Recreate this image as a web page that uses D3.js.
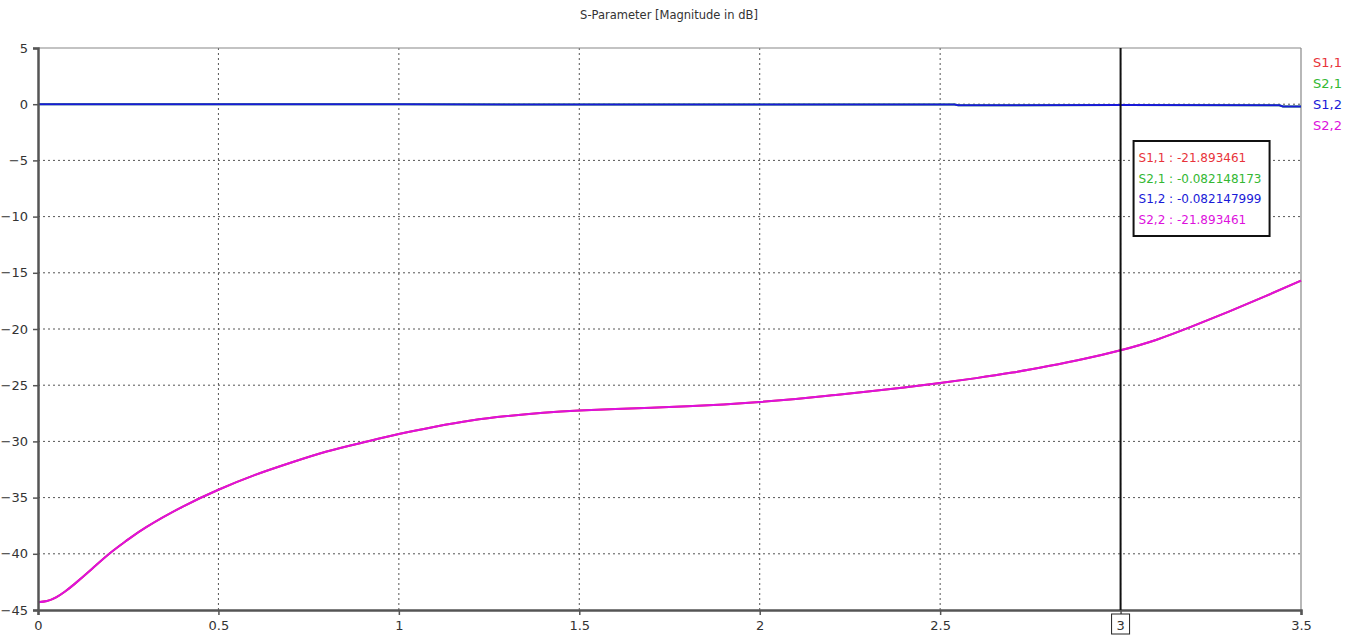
<!DOCTYPE html>
<html>
<head>
<meta charset="utf-8">
<script src="https://cdn.jsdelivr.net/npm/d3@7"></script>
<style>
  body { margin: 0; background: #fff; }
  text { font-family: "DejaVu Sans", Verdana, sans-serif; }
</style>
</head>
<body>
<svg width="1357" height="638"></svg>
<script>
// frequency (x) and magnitude in dB
const freq = [0, 0.025, 0.05, 0.075, 0.1, 0.15, 0.2, 0.25, 0.3, 0.4, 0.5, 0.6, 0.7, 0.8, 0.9, 1.0, 1.1, 1.2, 1.3, 1.4,
  1.5, 1.6, 1.7, 1.8, 1.9, 2.0, 2.1, 2.2, 2.3, 2.4, 2.5, 2.6, 2.7, 2.8, 2.9, 3.0, 3.1, 3.2, 3.3, 3.4, 3.5];
const s11 = [-44.3, -44.2, -43.88, -43.35, -42.72, -41.33, -39.93, -38.72, -37.62, -35.82, -34.3, -33.0,
  -31.9, -30.9, -30.1, -29.35, -28.7, -28.15, -27.75, -27.45, -27.25, -27.12, -27.0, -26.88, -26.72, -26.5,
  -26.22, -25.9, -25.57, -25.2, -24.8, -24.37, -23.88, -23.3, -22.65, -21.89, -20.95, -19.75, -18.45, -17.1, -15.7];
const s22 = s11.slice();
const freqT = [0, 0.5, 1.0, 1.5, 2.0, 2.54, 2.55, 3.0, 3.44, 3.45, 3.5];
const s21 = [-0.01, -0.01, -0.01, -0.02, -0.02, -0.02, -0.09, -0.082, -0.09, -0.2, -0.2];
const s12 = s21.slice();

const xTicks = [0, 0.5, 1, 1.5, 2, 2.5, 3, 3.5];
const yTicks = [5, 0, -5, -10, -15, -20, -25, -30, -35, -40, -45];
const markerX = 3;
const markerVals = ['-21.893461', '-0.082148173', '-0.082147999', '-21.893461'];

const series = [
  { name: 'S1,1', x: freq, y: s11, color: '#e8333a', smooth: true },
  { name: 'S2,1', x: freqT, y: s21, color: '#33b833', smooth: false },
  { name: 'S1,2', x: freqT, y: s12, color: '#1a1ad8', smooth: false },
  { name: 'S2,2', x: freq, y: s22, color: '#dd11dd', smooth: true }
];

const svg = d3.select('svg');
const margin = { top: 48, right: 56, bottom: 28, left: 38 };
const width = 1357 - margin.left - margin.right;
const height = 638 - margin.top - margin.bottom;

const chart = svg.append('g').attr('transform', `translate(${margin.left},${margin.top})`);

const xScale = d3.scaleLinear().domain([0, 3.5]).range([0, width]);
const yScale = d3.scaleLinear().domain([-45, 5]).range([height, 0]);

// title
svg.append('text')
  .attr('x', 669).attr('y', 19)
  .style('text-anchor', 'middle')
  .style('font-size', '11.5px')
  .style('fill', '#333')
  .text('S-Parameter [Magnitude in dB]');

// grid
chart.append('g').selectAll('line')
  .data(xTicks.slice(1, -1))
  .enter().append('line')
  .attr('x1', d => xScale(d)).attr('x2', d => xScale(d))
  .attr('y1', 0).attr('y2', height)
  .style('stroke', '#555').style('stroke-dasharray', '2,3');
chart.append('g').selectAll('line')
  .data(yTicks.slice(1, -1))
  .enter().append('line')
  .attr('x1', 0).attr('x2', width)
  .attr('y1', d => yScale(d)).attr('y2', d => yScale(d))
  .style('stroke', '#555').style('stroke-dasharray', '2,3');

// frame top/right
chart.append('line').attr('x1', 0).attr('x2', width).attr('y1', 0).attr('y2', 0)
  .style('stroke', '#888').style('stroke-width', 1.2);
chart.append('line').attr('x1', width).attr('x2', width).attr('y1', 0).attr('y2', height)
  .style('stroke', '#888').style('stroke-width', 1.2);

// lines
const smoothLine = d3.line().x(d => xScale(d[0])).y(d => yScale(d[1])).curve(d3.curveNatural);
const plainLine = d3.line().x(d => xScale(d[0])).y(d => yScale(d[1]));
series.forEach(function(s) {
  chart.append('path')
    .datum(s.x.map((v, i) => [v, s.y[i]]))
    .attr('d', s.smooth ? smoothLine : plainLine)
    .style('fill', 'none')
    .style('stroke', s.color)
    .style('stroke-width', 2);
});

// axes
const xAxis = chart.append('g')
  .attr('transform', `translate(0,${height})`)
  .call(d3.axisBottom(xScale).tickValues(xTicks).tickSize(5).tickPadding(6).tickFormat(d => d === markerX ? '' : d3.format('')(d)));
const yAxis = chart.append('g')
  .call(d3.axisLeft(yScale).tickValues(yTicks).tickSize(5).tickPadding(5));
[xAxis, yAxis].forEach(function(ax) {
  ax.select('.domain').style('stroke', '#555').style('stroke-width', 2.5);
  ax.selectAll('.tick line').style('stroke', '#555').style('stroke-width', 1.5);
  ax.selectAll('.tick text').style('font-size', '13px').style('fill', '#333')
    .style('font-family', '"DejaVu Sans", Verdana, sans-serif');
});

// marker line
const mx = xScale(markerX);
chart.append('line').attr('x1', mx).attr('x2', mx).attr('y1', 0).attr('y2', height)
  .style('stroke', '#111').style('stroke-width', 2);
chart.append('rect').attr('x', mx - 9).attr('y', height + 4).attr('width', 18).attr('height', 20)
  .style('fill', '#fff').style('stroke', '#222').style('stroke-width', 1);
chart.append('text').attr('x', mx).attr('y', height + 20)
  .style('text-anchor', 'middle').style('font-size', '13px').style('fill', '#333').text(markerX);

// marker box
const box = chart.append('g').attr('transform', `translate(${mx + 13},93)`);
box.append('rect').attr('width', 136).attr('height', 95)
  .style('fill', '#fff').style('stroke', '#111').style('stroke-width', 2);
series.forEach(function(s, i) {
  box.append('text')
    .attr('x', 5).attr('y', 21 + i * 20.5)
    .style('font-size', '12px').style('fill', s.color)
    .text(s.name + ' : ' + markerVals[i]);
});

// legend
series.forEach(function(s, i) {
  svg.append('text')
    .attr('x', 1313).attr('y', 67 + i * 21)
    .style('font-size', '13px').style('fill', s.color)
    .text(s.name);
});
</script>
</body>
</html>
